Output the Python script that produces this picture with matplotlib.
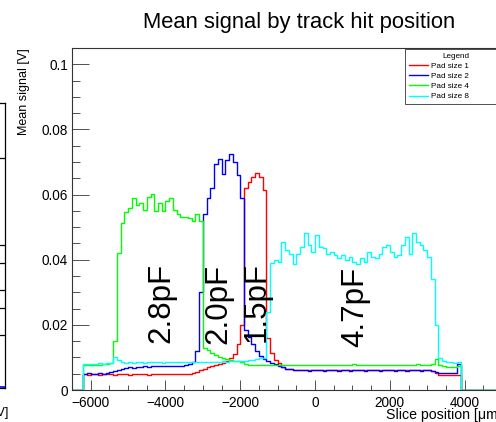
import numpy as np
import matplotlib.pyplot as plt
from matplotlib.ticker import MultipleLocator, FuncFormatter

plt.rcParams['font.family'] = ['Liberation Sans', 'DejaVu Sans']

# --------------------------------------------------
# Data: mean signal per 100 um slice, slices from -6200 to 3900 um
# --------------------------------------------------
x_range = (-6500, 5000)
slice_lo = -6200
slice_w = 100

pad1 = [0.0048, 0.0047, 0.0049, 0.0048, 0.0047, 0.0048, 0.0049, 0.0048, 0.0047, 0.0048,
        0.0049, 0.0048, 0.0047, 0.0048, 0.0049, 0.0048, 0.0048, 0.0047, 0.0048, 0.0049,
        0.0048, 0.0049, 0.0048, 0.0049, 0.0048, 0.0049, 0.0050, 0.0049, 0.0050, 0.0052,
        0.0056, 0.0061, 0.0066, 0.0070, 0.0074, 0.0078, 0.0081, 0.0084, 0.0090, 0.0098,
        0.0112, 0.0140, 0.0200, 0.0620, 0.0640, 0.0655, 0.0665, 0.0655, 0.0615, 0.0160,
        0.0115, 0.0092, 0.0082, 0.0072, 0.0066, 0.0063, 0.0062, 0.0061, 0.0062, 0.0061,
        0.0061, 0.0062, 0.0061, 0.0060, 0.0061, 0.0062, 0.0061, 0.0061, 0.0060, 0.0061,
        0.0062, 0.0061, 0.0061, 0.0060, 0.0061, 0.0062, 0.0061, 0.0060, 0.0061, 0.0061,
        0.0062, 0.0061, 0.0060, 0.0061, 0.0061, 0.0062, 0.0061, 0.0060, 0.0061, 0.0061,
        0.0060, 0.0061, 0.0060, 0.0058, 0.0052, 0.0047, 0.0047, 0.0046, 0.0047, 0.0047,
        0.0046]

pad2 = [0.0050, 0.0051, 0.0049, 0.0050, 0.0051, 0.0050, 0.0052, 0.0055, 0.0058, 0.0062,
        0.0066, 0.0068, 0.0070, 0.0069, 0.0071, 0.0072, 0.0073, 0.0072, 0.0074, 0.0073,
        0.0073, 0.0074, 0.0073, 0.0074, 0.0075, 0.0074, 0.0075, 0.0076, 0.0080, 0.0085,
        0.0120, 0.0300, 0.0540, 0.0590, 0.0620, 0.0695, 0.0710, 0.0662, 0.0705, 0.0724,
        0.0700, 0.0660, 0.0590, 0.0184, 0.0164, 0.0140, 0.0120, 0.0105, 0.0094, 0.0090,
        0.0082, 0.0079, 0.0075, 0.0070, 0.0066, 0.0063, 0.0061, 0.0060, 0.0061, 0.0060,
        0.0059, 0.0060, 0.0061, 0.0060, 0.0059, 0.0060, 0.0060, 0.0061, 0.0059, 0.0060,
        0.0060, 0.0059, 0.0061, 0.0060, 0.0060, 0.0059, 0.0060, 0.0061, 0.0060, 0.0059,
        0.0060, 0.0060, 0.0061, 0.0059, 0.0060, 0.0060, 0.0059, 0.0061, 0.0060, 0.0060,
        0.0059, 0.0060, 0.0060, 0.0058, 0.0056, 0.0053, 0.0052, 0.0052, 0.0051, 0.0052,
        0.0080]

pad4 = [0.0076, 0.0078, 0.0077, 0.0078, 0.0078, 0.0079, 0.0080, 0.0082, 0.0150, 0.0420,
        0.0512, 0.0545, 0.0560, 0.0590, 0.0568, 0.0575, 0.0554, 0.0594, 0.0603, 0.0550,
        0.0574, 0.0550, 0.0580, 0.0590, 0.0553, 0.0541, 0.0530, 0.0530, 0.0527, 0.0520,
        0.0540, 0.0520, 0.0130, 0.0122, 0.0113, 0.0108, 0.0102, 0.0098, 0.0095, 0.0092,
        0.0090, 0.0088, 0.0086, 0.0081, 0.0078, 0.0077, 0.0076, 0.0078, 0.0077, 0.0076,
        0.0077, 0.0078, 0.0076, 0.0077, 0.0077, 0.0076, 0.0078, 0.0077, 0.0076, 0.0077,
        0.0078, 0.0077, 0.0076, 0.0077, 0.0078, 0.0077, 0.0076, 0.0077, 0.0077, 0.0078,
        0.0076, 0.0077, 0.0079, 0.0077, 0.0076, 0.0077, 0.0078, 0.0077, 0.0076, 0.0077,
        0.0078, 0.0077, 0.0076, 0.0078, 0.0077, 0.0077, 0.0076, 0.0078, 0.0077, 0.0079,
        0.0077, 0.0076, 0.0078, 0.0080, 0.0095, 0.0078, 0.0073, 0.0072, 0.0072, 0.0071,
        0.0074]

pad8 = [0.0080, 0.0081, 0.0080, 0.0081, 0.0082, 0.0081, 0.0083, 0.0084, 0.0102, 0.0092,
        0.0085, 0.0084, 0.0085, 0.0084, 0.0085, 0.0086, 0.0084, 0.0085, 0.0085, 0.0086,
        0.0085, 0.0084, 0.0086, 0.0085, 0.0086, 0.0085, 0.0086, 0.0087, 0.0085, 0.0086,
        0.0086, 0.0087, 0.0086, 0.0086, 0.0087, 0.0086, 0.0087, 0.0088, 0.0087, 0.0088,
        0.0088, 0.0089, 0.0089, 0.0090, 0.0091, 0.0092, 0.0094, 0.0097, 0.0098, 0.0240,
        0.0390, 0.0400, 0.0393, 0.0455, 0.0430, 0.0419, 0.0388, 0.0419, 0.0440, 0.0483,
        0.0445, 0.0424, 0.0475, 0.0440, 0.0435, 0.0419, 0.0424, 0.0414, 0.0404, 0.0414,
        0.0399, 0.0409, 0.0393, 0.0388, 0.0404, 0.0393, 0.0424, 0.0409, 0.0404, 0.0419,
        0.0440, 0.0445, 0.0424, 0.0409, 0.0414, 0.0445, 0.0470, 0.0419, 0.0481, 0.0455,
        0.0445, 0.0429, 0.0409, 0.0340, 0.0200, 0.0098, 0.0088, 0.0087, 0.0085, 0.0083,
        0.0085]

labels = ["Pad size 1", "Pad size 2", "Pad size 4", "Pad size 8"]
colors = ["#ff0000", "#0000ff", "#00ff00", "#00ffff"]

cap_text = ["2.8pF", "2.0pF", "1.5pF", "4.7pF"]
cap_x = [-4120, -2590, -1550, 1070]
cap_y = [0.0267, 0.0264, 0.0270, 0.0256]

# --------------------------------------------------
# Figure
# --------------------------------------------------
W, H = 496, 422
fig = plt.figure(figsize=(W / 100, H / 100), dpi=100)

# frame: left edge at 72 px, bottom at 390 px, top at 48 px, right just past the crop
px_per_um = 0.03739
x0_px, y0_px, ytop_px = 72, 390, 48
x1_px = x0_px + (x_range[1] - x_range[0]) * px_per_um
ax = fig.add_axes([x0_px / W, (H - y0_px) / H, (x1_px - x0_px) / W, (y0_px - ytop_px) / H])

edges = np.arange(x_range[0], x_range[1] + 1, slice_w)
n_left = (slice_lo - x_range[0]) // slice_w

for vals, lab, col in zip([pad1, pad2, pad4, pad8], labels, colors):
    full = np.zeros(len(edges) - 1)
    full[n_left:n_left + len(vals)] = vals
    ax.step(edges, np.append(full, full[-1]), where='post',
            color=col, lw=1.0, label=lab)

ax.set_xlim(*x_range)
ax.set_ylim(0, 0.105)

# ticks ROOT style
ax.xaxis.set_major_locator(MultipleLocator(2000))
ax.xaxis.set_minor_locator(MultipleLocator(500))
ax.yaxis.set_major_locator(MultipleLocator(0.02))
ax.yaxis.set_minor_locator(MultipleLocator(0.005))
ax.yaxis.set_major_formatter(FuncFormatter(lambda v, p: "%g" % round(v, 4)))

ax.tick_params(axis='both', which='both', direction='in', width=0.6, color='#333333',
               top=False, right=False, labelsize=9.8)
ax.tick_params(axis='y', which='major', length=12, pad=2.7)
ax.tick_params(axis='y', which='minor', length=6)
ax.tick_params(axis='x', which='major', length=7.2, pad=4.3)
ax.tick_params(axis='x', which='minor', length=3.6)

for s in ax.spines.values():
    s.set_linewidth(0.8)
    s.set_color('#333333')

ax.set_xlabel("Slice position [\u03bcm]", fontsize=10.2, loc='right')
ax.xaxis.set_label_coords(1.0, -0.052)
ax.set_ylabel("Mean signal [V]", fontsize=9, loc='top')
ax.yaxis.set_label_coords(-0.098, 1.0)

for t, xx, yy in zip(cap_text, cap_x, cap_y):
    ax.text(xx, yy, t, rotation=90, ha='center', va='center', fontsize=22.5)

fig.text(299 / W, 1 - 28.3 / H, "Mean signal by track hit position",
         ha='center', va='baseline', fontsize=15.8)

leg = ax.legend(title="Legend", loc='upper left',
                bbox_to_anchor=(405 / W, 1 - 49 / H, 102 / W, 0.0),
                bbox_transform=fig.transFigure, mode='expand',
                fontsize=5.9, title_fontsize=5.9, frameon=True, fancybox=False,
                borderaxespad=0, borderpad=0.45, labelspacing=0.3,
                handlelength=2.4, handletextpad=0.35)
leg.get_frame().set_edgecolor('black')
leg.get_frame().set_linewidth(0.6)

# piece of the neighbouring pad, cut at the left edge
frag = fig.add_axes([-20 / W, (H - 388) / H, 25 / W, (388 - 103) / H])
frag.set_xticks([])
frag.set_yticks([])
for s in frag.spines.values():
    s.set_linewidth(0.9)
for yy in [0.807, 0.502, 0.439, 0.344, 0.281, 0.186]:
    frag.axhline(yy, color='black', lw=0.9)
frag.axhline(0.004, color='#0000ff', lw=1.2)
fig.text(8 / W, 1 - 413 / H, "[V]", ha='right', va='center', fontsize=9)

fig.savefig("out.png", dpi=100)
